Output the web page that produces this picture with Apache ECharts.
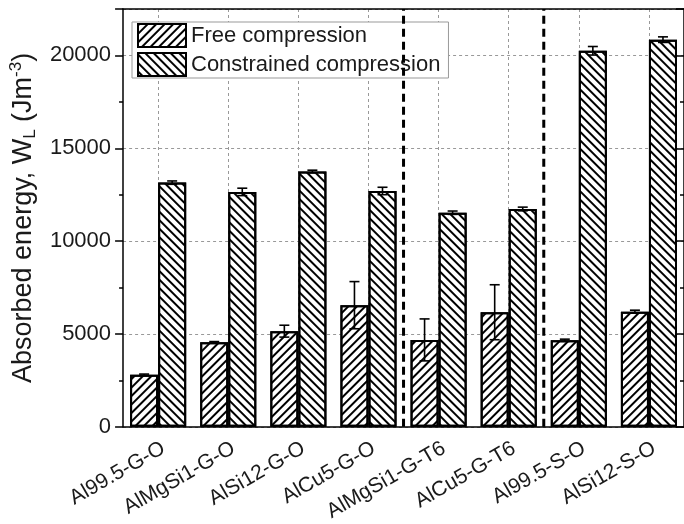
<!DOCTYPE html>
<html>
<head>
<meta charset="utf-8">
<script src="https://cdn.jsdelivr.net/npm/echarts@6/dist/echarts.min.js"></script>
<style>
	html, body { margin: 0; padding: 0; background: #fff; }
	#chart { width: 684px; height: 524px; }
</style>
</head>
<body>
<div id="chart"></div>
<script>
// ============================== data ==============================
var categories = ['Al99.5-G-O', 'AlMgSi1-G-O', 'AlSi12-G-O', 'AlCu5-G-O', 'AlMgSi1-G-T6', 'AlCu5-G-T6', 'Al99.5-S-O', 'AlSi12-S-O'];
var freeVals = [2800, 4550, 5150, 6550, 4680, 6170, 4660, 6200];
var freeErr = [40, 40, 320, 1270, 1130, 1480, 60, 80];
var constrVals = [13150, 12650, 13750, 12700, 11530, 11730, 20250, 20850];
var constrErr = [90, 200, 70, 200, 90, 100, 230, 150];
// dashed separators after these category indices
var separators = [3, 5];
var yMin = 0, yMax = 22500, yStep = 5000;

var FONT = 'Liberation Sans';
var TXT = '#1a1a1a';

function errData(vals, errs) {
	return vals.map(function (v, i) { return [i, v, errs[i]]; });
}

// error bar drawn beside the bar centre (sign -1 left bar, +1 right bar)
function errorRender(sign) {
	return function (params, api) {
		var i = api.value(0), v = api.value(1), e = api.value(2);
		var band = api.size([1, 0])[0];
		var x = api.coord([i, v])[0] + sign * band * 0.2;
		var hi = api.coord([i, v + e])[1];
		var lo = api.coord([i, v - e])[1];
		var cap = 5;
		var st = { stroke: '#000', lineWidth: 1.6 };
		return {
			type: 'group',
			children: [
				{ type: 'line', shape: { x1: x, y1: hi, x2: x, y2: lo }, style: st },
				{ type: 'line', shape: { x1: x - cap, y1: hi, x2: x + cap, y2: hi }, style: st },
				{ type: 'line', shape: { x1: x - cap, y1: lo, x2: x + cap, y2: lo }, style: st }
			]
		};
	};
}

function separatorRender(params, api) {
	var i = api.value(0);
	var band = api.size([1, 0])[0];
	var p = api.coord([i, 0]);
	var x = p[0] + band / 2;
	return {
		type: 'line',
		shape: { x1: x, y1: p[1], x2: x, y2: params.coordSys.y },
		style: { stroke: '#000', lineWidth: 3, lineDash: [8, 5] }
	};
}

var hatchFree = { symbol: 'rect', symbolSize: 1, dashArrayX: [1, 0], dashArrayY: [2, 4], rotation: -Math.PI / 4, color: '#000' };
var hatchConstr = { symbol: 'rect', symbolSize: 1, dashArrayX: [1, 0], dashArrayY: [2, 4], rotation: Math.PI / 4, color: '#000' };

var myChart = echarts.init(document.getElementById('chart'), null, { renderer: 'canvas' });

var axisLineStyle = { color: '#000', width: 1.5 };
var gridLine = { show: true, lineStyle: { color: '#999', type: [3, 3], width: 1 } };

var option = {
	animation: false,
	backgroundColor: '#fff',
	textStyle: { fontFamily: FONT },
	grid: { left: 123, right: -5, top: 9, bottom: 97 },
	legend: {
		data: ['Free compression', 'Constrained compression'],
		orient: 'vertical',
		left: 132,
		top: 22,
		icon: 'rect',
		itemWidth: 48,
		itemHeight: 23,
		itemGap: 4,
		padding: [1, 8, 1, 5],
		backgroundColor: '#fff',
		borderColor: '#999',
		borderWidth: 1,
		borderRadius: 0,
		textStyle: { fontSize: 22, color: TXT, fontFamily: FONT }
	},
	xAxis: [{
		type: 'category',
		data: categories,
		position: 'bottom',
		axisLine: { lineStyle: axisLineStyle },
		axisTick: { alignWithLabel: true, length: 8, lineStyle: { color: '#000', width: 1.5 } },
		axisLabel: { rotate: 30, fontSize: 21, color: TXT, margin: 11, verticalAlign: 'top', fontFamily: FONT },
		splitLine: { show: true, alignWithLabel: true, lineStyle: { color: '#999', type: [3, 3], width: 1 } }
	}, {
		type: 'category',
		data: categories,
		position: 'bottom',
		axisLine: { show: false },
		axisTick: { length: 4, lineStyle: { color: '#000', width: 1.5 } },
		axisLabel: { show: false },
		splitLine: { show: false }
	}, {
		type: 'category',
		data: categories,
		position: 'top',
		axisLine: { lineStyle: axisLineStyle },
		axisTick: { inside: true, alignWithLabel: true, length: 8, lineStyle: { color: '#000', width: 1.5 } },
		axisLabel: { show: false },
		splitLine: { show: false }
	}, {
		type: 'category',
		data: categories,
		position: 'top',
		axisLine: { show: false },
		axisTick: { inside: true, length: 4, lineStyle: { color: '#000', width: 1.5 } },
		axisLabel: { show: false },
		splitLine: { show: false }
	}],
	yAxis: [{
		type: 'value',
		min: yMin,
		max: yMax,
		interval: yStep,
		position: 'left',
		name: 'Absorbed energy, W{sub|L} (Jm{sup|-3})',
		nameLocation: 'middle',
		nameGap: 61,
		nameTextStyle: {
			fontSize: 27,
			color: TXT,
			fontFamily: FONT,
			rich: {
				sub: { fontSize: 17, color: TXT, fontFamily: FONT, padding: [14, 0, 0, 0] },
				sup: { fontSize: 17, color: TXT, fontFamily: FONT, padding: [0, 0, 14, 0] }
			}
		},
		axisLine: { show: true, lineStyle: axisLineStyle },
		axisTick: { show: true, length: 8, lineStyle: { color: '#000', width: 1.5 } },
		minorTick: { show: true, splitNumber: 2, length: 4, lineStyle: { color: '#000', width: 1.5 } },
		axisLabel: {
			fontSize: 22, color: TXT, margin: 12, showMaxLabel: false, fontFamily: FONT,
			formatter: function (v) { return String(v); }
		},
		splitLine: gridLine
	}, {
		type: 'value',
		min: yMin,
		max: yMax,
		interval: yStep,
		position: 'right',
		axisLine: { show: true, lineStyle: axisLineStyle },
		axisTick: { show: true, inside: true, length: 8, lineStyle: { color: '#000', width: 1.5 } },
		minorTick: { show: true, splitNumber: 2, length: 4, lineStyle: { color: '#000', width: 1.5 } },
		axisLabel: { show: false },
		splitLine: { show: false }
	}],
	series: [{
		name: 'Free compression',
		type: 'bar',
		data: freeVals,
		barWidth: '40%',
		barGap: '0%',
		itemStyle: { color: '#fff', borderColor: '#000', borderWidth: 2, decal: hatchFree },
		z: 3
	}, {
		name: 'Constrained compression',
		type: 'bar',
		data: constrVals,
		barWidth: '40%',
		barGap: '0%',
		itemStyle: { color: '#fff', borderColor: '#000', borderWidth: 2, decal: hatchConstr },
		z: 3
	}, {
		name: 'freeErr',
		type: 'custom',
		renderItem: errorRender(-1),
		data: errData(freeVals, freeErr),
		encode: { x: 0, y: 1 },
		z: 5
	}, {
		name: 'constrErr',
		type: 'custom',
		renderItem: errorRender(1),
		data: errData(constrVals, constrErr),
		encode: { x: 0, y: 1 },
		z: 5
	}, {
		name: 'separators',
		type: 'custom',
		renderItem: separatorRender,
		data: separators.map(function (i) { return [i]; }),
		encode: { x: 0 },
		z: 4
	}]
};
myChart.setOption(option);
</script>
</body>
</html>
